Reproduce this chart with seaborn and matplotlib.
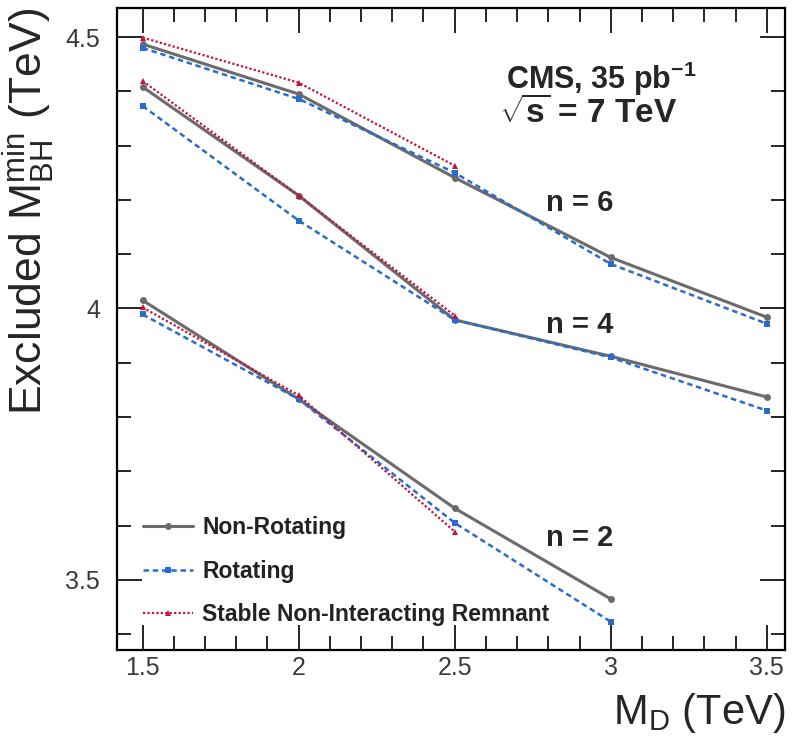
import matplotlib
matplotlib.use("Agg")
import matplotlib.pyplot as plt
from matplotlib.ticker import MultipleLocator
import pandas as pd
import seaborn as sns

# Planck scale M_D (TeV)
md = [1.5, 2.0, 2.5, 3.0, 3.5]
md_short = [1.5, 2.0, 2.5]
md_n2 = [1.5, 2.0, 2.5, 3.0]

# Excluded minimum black hole mass (TeV)
nonrot_n6 = [4.487, 4.395, 4.241, 4.094, 3.984]
rot_n6 = [4.480, 4.386, 4.250, 4.082, 3.972]
snr_n6 = [4.499, 4.416, 4.263]

nonrot_n4 = [4.408, 4.208, 3.979, 3.912, 3.837]
rot_n4 = [4.373, 4.162, 3.979, 3.910, 3.812]
snr_n4 = [4.419, 4.208, 3.987]

nonrot_n2 = [4.015, 3.833, 3.632, 3.465]
rot_n2 = [3.989, 3.833, 3.605, 3.423]
snr_n2 = [4.002, 3.840, 3.589]

models = ["Non-Rotating", "Rotating", "Stable Non-Interacting Remnant"]

rows = []
for n, series in [(6, [(md, nonrot_n6), (md, rot_n6), (md_short, snr_n6)]),
                  (4, [(md, nonrot_n4), (md, rot_n4), (md_short, snr_n4)]),
                  (2, [(md_n2, nonrot_n2), (md_n2, rot_n2), (md_short, snr_n2)])]:
    for model, (xs, ys) in zip(models, series):
        for x, y in zip(xs, ys):
            rows.append({"n": n, "model": model, "MD": x, "MBH": y})
df = pd.DataFrame(rows)

sns.set_style("ticks")
plt.rcParams["font.family"] = ["Liberation Sans", "DejaVu Sans"]
plt.rcParams["mathtext.fontset"] = "custom"
plt.rcParams["mathtext.rm"] = "Liberation Sans"
plt.rcParams["mathtext.bf"] = "Liberation Sans:bold"

styles = {
    "Non-Rotating": dict(color="#6b6b6b", linestyle="-", marker="o", markersize=5, linewidth=2.2),
    "Rotating": dict(color="#2a6ccc", linestyle=(0, (2.2, 1.5)), marker="s", markersize=5, linewidth=1.8),
    "Stable Non-Interacting Remnant": dict(color="#c0143c", linestyle=(0, (1, 1)), marker="^", markersize=5, linewidth=1.6),
}

fig = plt.figure(figsize=(8, 7.54), dpi=100)
ax = fig.add_axes([0.146, 0.138, 0.835, 0.851])

for n in [6, 4, 2]:
    for model in models:
        sub = df[(df["n"] == n) & (df["model"] == model)]
        sns.lineplot(data=sub, x="MD", y="MBH", ax=ax, markeredgewidth=0,
                     label=model if n == 6 else None, **styles[model])

ax.set_xlim(1.417, 3.558)
ax.set_ylim(3.371, 4.553)
ax.xaxis.set_minor_locator(MultipleLocator(0.1))
ax.yaxis.set_minor_locator(MultipleLocator(0.1))
ax.set_xticks([1.5, 2, 2.5, 3, 3.5])
ax.set_xticklabels(["1.5", "2", "2.5", "3", "3.5"])
ax.set_yticks([3.5, 4, 4.5])
ax.set_yticklabels(["3.5", "4", "4.5"])
ax.tick_params(which="both", direction="in", top=True, right=True, labelsize=18,
               colors="black", labelcolor="#3a3a3a", width=1.2)
ax.tick_params(which="major", length=18)
ax.tick_params(axis="x", which="major", pad=4)
ax.tick_params(axis="y", which="major", pad=12)
ax.tick_params(which="minor", length=10)
for s in ax.spines.values():
    s.set_linewidth(1.6)
    s.set_color("black")

ax.set_xlabel(r"M$_\mathregular{D}$ (TeV)", fontsize=30, loc="right", labelpad=8)
ax.set_ylabel(r"Excluded M$_\mathregular{BH}^\mathregular{min}$ (TeV)", fontsize=32, loc="top", labelpad=6)

ax.text(0.868, 0.89, r"CMS, 35 pb$^\mathbf{-1}$", transform=ax.transAxes, fontsize=22,
        fontweight="bold", ha="right", va="center")
ax.text(0.572, 0.836, r"$\sqrt{\mathbf{s}}$ = 7 TeV", transform=ax.transAxes, fontsize=24,
        fontweight="bold", ha="left", va="center")
ax.text(2.90, 4.195, "n = 6", fontsize=21, fontweight="bold", ha="center", va="center")
ax.text(2.90, 3.969, "n = 4", fontsize=21, fontweight="bold", ha="center", va="center")
ax.text(2.90, 3.577, "n = 2", fontsize=21, fontweight="bold", ha="center", va="center")

leg = ax.legend(loc="lower left", frameon=False, prop={"size": 16.5, "weight": "bold"},
                handlelength=2.2, handletextpad=0.4, labelspacing=0.9,
                bbox_to_anchor=(0.015, 0.012), borderaxespad=0.3)
for t in leg.get_texts():
    t.set_color("#222222")

fig.savefig("out.png", dpi=100)
